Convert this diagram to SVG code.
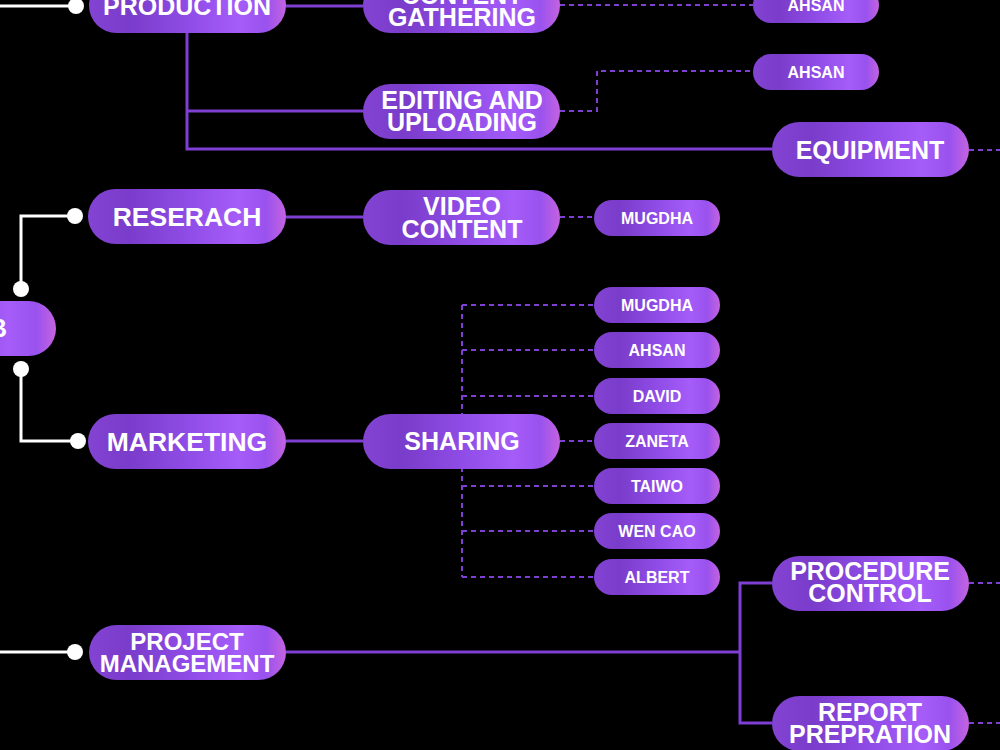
<svg xmlns="http://www.w3.org/2000/svg" width="1000" height="750" viewBox="0 0 1000 750">
  <defs>
    <linearGradient id="pill" x1="0" y1="0" x2="1" y2="0">
      <stop offset="0" stop-color="#8343D3"/>
      <stop offset="0.2" stop-color="#7A3CCA"/>
      <stop offset="0.5" stop-color="#8F4CE6"/>
      <stop offset="0.76" stop-color="#A55CF9"/>
      <stop offset="0.9" stop-color="#9A52EE"/>
      <stop offset="1" stop-color="#C463E0"/>
    </linearGradient>
    <style>
      .big rect { fill: url(#pill); }
      .sm rect { fill: url(#pill); }
      text { font-family: "Liberation Sans", Arial, sans-serif; font-weight: bold; fill: #ffffff; text-anchor: middle; }
      .big text { font-size: 25px; }
      .sm text { font-size: 16px; }
      .solid { stroke: #7E3FD2; stroke-width: 3; fill: none; }
      .dash { stroke: #7E3FD2; stroke-width: 2; fill: none; stroke-dasharray: 5 4; }
      .white { stroke: #ffffff; stroke-width: 3; fill: none; }
      .dot { fill: #ffffff; }
    </style>
  </defs>
  <rect x="0" y="0" width="1000" height="750" fill="#000000"/>

  <g id="connectors">
    <!-- white root links -->
    <line class="white" x1="0" y1="6" x2="76" y2="6"/>
    <circle class="dot" cx="76" cy="6" r="8"/>
    <polyline class="white" points="21,289 21,216 75,216"/>
    <circle class="dot" cx="21" cy="289" r="8"/>
    <circle class="dot" cx="75" cy="216" r="8"/>
    <polyline class="white" points="21,369 21,441 78,441"/>
    <circle class="dot" cx="21" cy="369" r="8"/>
    <circle class="dot" cx="78" cy="441" r="8"/>
    <line class="white" x1="0" y1="652" x2="75" y2="652"/>
    <circle class="dot" cx="75" cy="652" r="8"/>

    <!-- production -->
    <line class="solid" x1="286" y1="6" x2="363" y2="6"/>
    <polyline class="solid" points="187,33 187,149 772,149"/>
    <line class="solid" x1="187" y1="111" x2="363" y2="111"/>
    <line class="dash" x1="560" y1="5" x2="753" y2="5"/>
    <polyline class="dash" points="560,111 597,111 597,71 753,71"/>
    <line class="dash" x1="969" y1="150" x2="1000" y2="150"/>

    <!-- research -->
    <line class="solid" x1="286" y1="217" x2="363" y2="217"/>
    <line class="dash" x1="560" y1="217" x2="594" y2="217"/>

    <!-- marketing -->
    <line class="solid" x1="286" y1="441" x2="363" y2="441"/>
    <line class="dash" x1="462" y1="305" x2="462" y2="577"/>
    <line class="dash" x1="462" y1="305" x2="594" y2="305"/>
    <line class="dash" x1="462" y1="350" x2="594" y2="350"/>
    <line class="dash" x1="462" y1="396" x2="594" y2="396"/>
    <line class="dash" x1="560" y1="441" x2="594" y2="441"/>
    <line class="dash" x1="462" y1="486" x2="594" y2="486"/>
    <line class="dash" x1="462" y1="531" x2="594" y2="531"/>
    <line class="dash" x1="462" y1="577" x2="594" y2="577"/>

    <!-- project management -->
    <line class="solid" x1="286" y1="652" x2="740" y2="652"/>
    <polyline class="solid" points="772,583 740,583 740,723 772,723"/>
    <line class="dash" x1="969" y1="583" x2="1000" y2="583"/>
    <line class="dash" x1="969" y1="723" x2="1000" y2="723"/>
  </g>

  <g id="root" class="big">
    <rect x="-141" y="301" width="197" height="55" rx="27.5"/>
    <text x="7" y="337" style="text-anchor:end">B</text>
  </g>

  <g id="production" class="big">
    <rect x="89" y="-22" width="197" height="55" rx="27.5"/>
    <text x="187" y="15">PRODUCTION</text>
  </g>
  <g id="content-gathering" class="big">
    <rect x="363" y="-22" width="197" height="55" rx="27.5"/>
    <text x="462" y="4">CONTENT</text>
    <text x="462" y="26">GATHERING</text>
  </g>
  <g id="ahsan-1" class="sm">
    <rect x="753" y="-13" width="126" height="36" rx="18"/>
    <text x="816" y="11">AHSAN</text>
  </g>
  <g id="editing" class="big">
    <rect x="363" y="84" width="197" height="55" rx="27.5"/>
    <text x="462" y="109">EDITING AND</text>
    <text x="462" y="131">UPLOADING</text>
  </g>
  <g id="ahsan-2" class="sm">
    <rect x="753" y="54" width="126" height="36" rx="18"/>
    <text x="816" y="78">AHSAN</text>
  </g>
  <g id="equipment" class="big">
    <rect x="772" y="122" width="197" height="55" rx="27.5"/>
    <text x="870" y="159">EQUIPMENT</text>
  </g>

  <g id="research" class="big">
    <rect x="88" y="189" width="198" height="55" rx="27.5"/>
    <text x="187" y="226" style="font-size:26.5px">RESERACH</text>
  </g>
  <g id="video-content" class="big">
    <rect x="363" y="190" width="197" height="55" rx="27.5"/>
    <text x="462" y="215">VIDEO</text>
    <text x="462" y="238">CONTENT</text>
  </g>
  <g id="mugdha-1" class="sm">
    <rect x="594" y="200" width="126" height="36" rx="18"/>
    <text x="657" y="224">MUGDHA</text>
  </g>

  <g id="marketing" class="big">
    <rect x="88" y="414" width="198" height="55" rx="27.5"/>
    <text x="187" y="451" style="font-size:26.5px">MARKETING</text>
  </g>
  <g id="sharing" class="big">
    <rect x="363" y="414" width="197" height="55" rx="27.5"/>
    <text x="462" y="450">SHARING</text>
  </g>
  <g id="mugdha-2" class="sm">
    <rect x="594" y="287" width="126" height="36" rx="18"/>
    <text x="657" y="311">MUGDHA</text>
  </g>
  <g id="ahsan-3" class="sm">
    <rect x="594" y="332" width="126" height="36" rx="18"/>
    <text x="657" y="356">AHSAN</text>
  </g>
  <g id="david" class="sm">
    <rect x="594" y="378" width="126" height="36" rx="18"/>
    <text x="657" y="402">DAVID</text>
  </g>
  <g id="zaneta" class="sm">
    <rect x="594" y="423" width="126" height="36" rx="18"/>
    <text x="657" y="447">ZANETA</text>
  </g>
  <g id="taiwo" class="sm">
    <rect x="594" y="468" width="126" height="36" rx="18"/>
    <text x="657" y="492">TAIWO</text>
  </g>
  <g id="wen-cao" class="sm">
    <rect x="594" y="513" width="126" height="36" rx="18"/>
    <text x="657" y="537">WEN CAO</text>
  </g>
  <g id="albert" class="sm">
    <rect x="594" y="559" width="126" height="36" rx="18"/>
    <text x="657" y="583">ALBERT</text>
  </g>

  <g id="project-management" class="big">
    <rect x="89" y="625" width="197" height="55" rx="27.5"/>
    <text x="187" y="650" style="font-size:24px">PROJECT</text>
    <text x="187" y="672" style="font-size:24px">MANAGEMENT</text>
  </g>
  <g id="procedure-control" class="big">
    <rect x="772" y="556" width="197" height="55" rx="27.5"/>
    <text x="870" y="580">PROCEDURE</text>
    <text x="870" y="602">CONTROL</text>
  </g>
  <g id="report-prepration" class="big">
    <rect x="772" y="696" width="197" height="55" rx="27.5"/>
    <text x="870" y="721">REPORT</text>
    <text x="870" y="743">PREPRATION</text>
  </g>
</svg>
